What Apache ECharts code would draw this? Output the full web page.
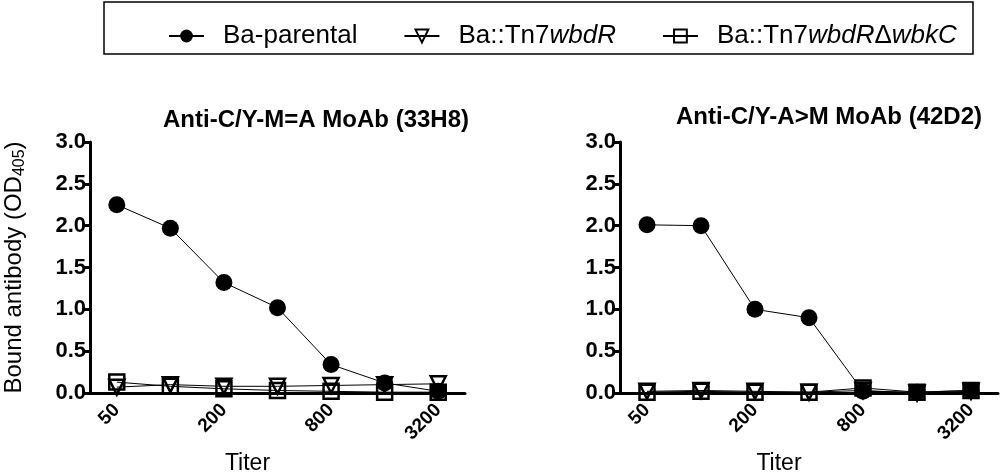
<!DOCTYPE html>
<html>
<head>
<meta charset="utf-8">
<script src="https://cdn.jsdelivr.net/npm/echarts@6/dist/echarts.min.js"></script>
<style>
  html, body { margin: 0; padding: 0; background: #fff; }
  #chart { width: 1000px; height: 473px; }
</style>
</head>
<body>
<div id="chart"></div>
<script>
const titers = ['50', '100', '200', '400', '800', '1600', '3200']
const seriesNames = ['Ba-parental', 'Ba::Tn7wbdR', 'Ba::Tn7wbdRΔwbkC']
const panelTitles = ['Anti-C/Y-M=A MoAb (33H8)', 'Anti-C/Y-A>M MoAb (42D2)']

// 33H8 panel
const parental33 = [2.25, 1.97, 1.32, 1.02, 0.34, 0.12, 0.02]
const wbdR33 = [0.07, 0.10, 0.08, 0.08, 0.09, 0.10, 0.11]
const wbdRwbkC33 = [0.13, 0.08, 0.05, 0.03, 0.02, 0.01, 0.01]
// 42D2 panel
const parental42 = [2.01, 2.00, 1.00, 0.90, 0.02, 0.01, 0.03]
const wbdR42 = [0.02, 0.03, 0.02, 0.01, 0.03, 0.00, 0.02]
const wbdRwbkC42 = [0.01, 0.02, 0.01, 0.01, 0.06, 0.01, 0.03]

const FONT = '"Liberation Sans", Arial, Helvetica, sans-serif'

const chart = echarts.init(document.getElementById('chart'))

function xAxisFor (gridIndex) {
  return {
    type: 'category',
    gridIndex: gridIndex,
    data: titers,
    boundaryGap: true,
    name: 'Titer',
    nameLocation: 'middle',
    nameGap: 59,
    nameTextStyle: { fontFamily: FONT, fontSize: 23, color: '#000', padding: [0, 60, 0, 0] },
    axisLine: { lineStyle: { color: '#000', width: 3 } },
    axisTick: { interval: 0, alignWithLabel: true, length: 7, lineStyle: { color: '#000', width: 3 } },
    axisLabel: { interval: 1, rotate: 45, margin: 14, fontFamily: FONT, fontSize: 19, fontWeight: 'bold', color: '#000' },
    splitLine: { show: false }
  }
}

function yAxisFor (gridIndex, withName) {
  const y = {
    type: 'value',
    gridIndex: gridIndex,
    min: 0,
    max: 3,
    interval: 0.5,
    axisLine: { show: true, lineStyle: { color: '#000', width: 3 } },
    axisTick: { show: true, length: 6, lineStyle: { color: '#000', width: 3 } },
    axisLabel: { margin: 4, fontFamily: FONT, fontSize: 22, fontWeight: 'bold', color: '#000', formatter: v => v.toFixed(1) },
    splitLine: { show: false }
  }
  if (withName) {
    y.name = '{a|Bound antibody (OD}{s|405}{a|)}'
    y.nameLocation = 'middle'
    y.nameGap = 62
    y.nameTextStyle = {
      rich: {
        a: { fontFamily: FONT, fontSize: 24, color: '#000', lineHeight: 28 },
        s: { fontFamily: FONT, fontSize: 16, color: '#000', lineHeight: 28, verticalAlign: 'bottom', padding: [10, 0, 0, 0] }
      }
    }
  }
  return y
}

const symbols = ['circle', 'triangle', 'rect']
const symbolSizes = [17, 15, 15]

function seriesFor (i, values, axisIndex) {
  const filled = i === 0
  return {
    name: seriesNames[i],
    type: 'line',
    xAxisIndex: axisIndex,
    yAxisIndex: axisIndex,
    data: values,
    symbol: symbols[i],
    symbolSize: symbolSizes[i],
    symbolRotate: i === 1 ? 180 : 0,
    showAllSymbol: true,
    animation: false,
    lineStyle: { color: '#000', width: 1 },
    itemStyle: filled
      ? { color: '#000', borderColor: '#000', borderWidth: 0 }
      : { color: 'rgba(255,255,255,0)', borderColor: '#000', borderWidth: 2.5 }
  }
}

const option = {
  backgroundColor: '#fff',
  animation: false,
  title: [
    { text: panelTitles[0], left: 311, top: 103, textAlign: 'center', textStyle: { fontFamily: FONT, fontSize: 24, fontWeight: 'bold', color: '#000' } },
    { text: panelTitles[1], left: 824, top: 100, textAlign: 'center', textStyle: { fontFamily: FONT, fontSize: 24, fontWeight: 'bold', color: '#000' } }
  ],
  legend: {
    left: 163,
    top: 18,
    itemWidth: 35,
    itemHeight: 16,
    itemGap: 46,
    data: seriesNames,
    lineStyle: { width: 2 },
    formatter: name => {
      if (name === seriesNames[1]) return '{n|Ba::Tn7}{i|wbdR}'
      if (name === seriesNames[2]) return '{n|Ba::Tn7}{i|wbdR}{n|Δ}{i|wbkC}'
      return '{n|' + name + '}'
    },
    textStyle: {
      padding: [0, 0, 0, 14],
      rich: {
        n: { fontFamily: FONT, fontSize: 26, color: '#000' },
        i: { fontFamily: FONT, fontSize: 26, color: '#000', fontStyle: 'italic' }
      }
    }
  },
  graphic: [
    { type: 'rect', shape: { x: 104, y: 2, width: 869, height: 52 }, style: { fill: 'none', stroke: '#000', lineWidth: 1.5 } }
  ],
  grid: [
    { left: 90, right: 535, top: 142, bottom: 80, outerBoundsMode: 'none' },
    { left: 620, right: 2, top: 142, bottom: 80, outerBoundsMode: 'none' }
  ],
  xAxis: [xAxisFor(0), xAxisFor(1)],
  yAxis: [yAxisFor(0, true), yAxisFor(1, false)],
  series: [
    seriesFor(0, parental33, 0),
    seriesFor(1, wbdR33, 0),
    seriesFor(2, wbdRwbkC33, 0),
    seriesFor(0, parental42, 1),
    seriesFor(1, wbdR42, 1),
    seriesFor(2, wbdRwbkC42, 1)
  ]
}

chart.setOption(option)
</script>
</body>
</html>
